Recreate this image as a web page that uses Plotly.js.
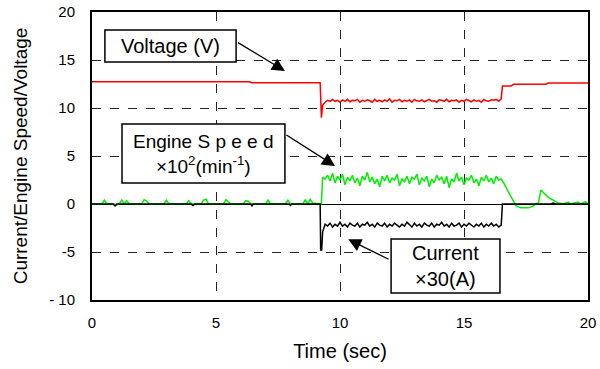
<!DOCTYPE html>
<html>
<head>
<meta charset="utf-8">
<script src="https://cdn.plot.ly/plotly-3.0.1.min.js"></script>
<style>html,body{margin:0;padding:0;background:#fff;}#chart{width:600px;height:369px;}</style>
</head>
<body>
<div id="chart"></div>
<script>
// ---- data ----
const noiseTime = [9.4,9.5,9.6,9.7,9.8,9.9,10.0,10.1,10.2,10.3,10.4,10.5,10.6,10.7,10.8,10.9,11.0,11.1,11.2,11.3,11.4,11.5,11.6,11.7,11.8,11.9,12.0,12.1,12.2,12.3,12.4,12.5,12.6,12.7,12.8,12.9,13.0,13.1,13.2,13.3,13.4,13.5,13.6,13.7,13.8,13.9,14.0,14.1,14.2,14.3,14.4,14.5,14.6,14.7,14.8,14.9,15.0,15.1,15.2,15.3,15.4,15.5,15.6,15.7,15.8,15.9,16.0,16.1,16.2,16.3,16.4,16.5];

const voltageTime = [0,6.35,6.45,9.2,9.25,9.3].concat(noiseTime,[16.55,16.9,17.0,18.3,18.4,20]);
const voltageValue = [12.74,12.74,12.64,12.64,9.0,10.3,
 10.6,10.8,10.7,10.9,10.7,10.8,10.6,10.85,10.7,10.9,
 10.65,10.8,10.75,10.9,10.6,10.8,10.7,10.85,10.75,10.6,
 10.9,10.7,10.8,10.65,10.85,10.7,10.95,10.6,10.8,10.75,
 10.9,10.65,10.8,10.7,10.85,10.6,10.9,10.75,10.7,10.85,
 10.65,10.8,10.9,10.7,10.75,10.6,10.85,10.8,10.7,10.9,
 10.65,10.8,10.75,10.85,10.6,10.8,10.7,10.9,10.75,10.65,
 10.85,10.7,10.8,10.6,10.9,10.75,10.7,10.85,10.8,10.9,10.7,10.95,
 12.3,12.3,12.47,12.47,12.6,12.6];

const speedTimeBefore = [0,0.4,0.5,0.6,0.9,1.0,1.1,1.2,1.3,1.4,1.5,1.6,2.0,2.1,2.2,2.3,2.9,3.0,3.1,3.2,3.8,3.9,4.0,4.1,4.4,4.5,4.6,4.7,5.3,5.4,5.5,5.6,6.1,6.2,6.3,6.4,7.0,7.1,7.2,7.8,7.9,8.0,8.5,8.6,8.7,8.8,8.9,9.25,9.3];
const speedValueBefore = [0,0,0.4,0,0,-0.1,0,0.4,0,0.35,0,0,0,0.45,0.3,0,0,0.4,0,0,0,0.35,0,0,0,0.4,0.5,0,0,0.45,0.2,0,0,0.35,0.3,0,0,0.4,0,0,0.4,0,0,0.45,0,0.5,0.1,0,2.8];
const speedNoise = [2.6,3.0,2.4,3.2,2.2,2.9,2.5,3.1,2.0,2.8,2.4,3.0,2.2,2.7,1.9,2.9,2.5,3.3,2.3,2.8,2.1,2.6,1.8,2.9,2.4,3.0,2.2,2.7,2.5,3.1,1.9,2.6,2.3,2.9,2.1,2.8,2.6,3.1,2.0,2.7,2.4,2.9,1.8,2.6,2.2,3.0,2.5,2.8,2.1,2.9,1.7,2.6,2.3,3.2,2.4,2.8,2.0,2.7,2.5,3.0,2.2,2.6,1.9,2.8,2.4,3.0,2.3,2.7,2.1,2.9,2.5,2.6];
const speedTimeAfter = [16.6,16.8,17.0,17.1,17.3,17.6,17.8,17.9,18.0,18.1,18.2,18.4,18.6,18.8,19.0,19.2,19.3,19.6,19.7,19.9,20];
const speedValueAfter = [2.2,1.2,0.3,-0.2,-0.4,-0.4,-0.2,0,0.1,1.45,1.2,0.7,0.4,0.1,0,0.2,0,0.2,0,0.25,0];
const speedTime = speedTimeBefore.concat(noiseTime, speedTimeAfter);
const speedValue = speedValueBefore.concat(speedNoise, speedValueAfter);

const currentTimeBefore = [0,0.85,0.93,1.0,4.0,4.07,4.15,6.4,6.45,6.5,7.95,8.0,8.05,9.2,9.22,9.26,9.3];
const currentValueBefore = [0,0,-0.2,0,0,-0.15,0,0,-0.2,0,0,-0.15,0,0,-4.8,-4.8,-2.9];
const currentNoise = [-2.1,-2.3,-2.0,-2.4,-2.1,-2.3,-1.9,-2.3,-2.1,-2.4,-2.0,-2.2,-2.3,-2.0,-2.4,-2.1,-2.2,-1.9,-2.3,-2.1,-2.4,-2.0,-2.2,-2.3,-2.0,-2.4,-2.1,-2.3,-2.0,-2.2,-2.4,-2.1,-2.3,-1.9,-2.2,-2.4,-2.0,-2.3,-2.1,-2.4,-2.0,-2.2,-2.3,-2.0,-2.4,-2.1,-2.2,-1.9,-2.3,-2.1,-2.4,-2.0,-2.3,-2.2,-2.0,-2.4,-2.1,-2.3,-2.0,-2.2,-2.4,-2.1,-2.3,-2.0,-2.4,-2.1,-2.3,-2.0,-2.3,-2.1,-2.4,-2.2];
const currentTimeAfter = [16.55,18.5,18.6,18.7,20];
const currentValueAfter = [0,0,0.1,0,0];
const currentTime = currentTimeBefore.concat(noiseTime, currentTimeAfter);
const currentValue = currentValueBefore.concat(currentNoise, currentValueAfter);

const yTickValues = [-10,-5,0,5,10,15,20];
const yTickLabels = ['- 10','-5','0','5','10','15','20'];
const xTickValues = [0,5,10,15,20];
const xTickLabels = ['0','5','10','15','20'];

// ---- plot ----
const font = 'Liberation Sans, Arial, sans-serif';
const traces = [
  {x: speedTime, y: speedValue, mode: 'lines', line: {color: '#00ee00', width: 1.5}, name: 'Engine Speed'},
  {x: currentTime, y: currentValue, mode: 'lines', line: {color: '#000000', width: 1.5}, name: 'Current'},
  {x: voltageTime, y: voltageValue, mode: 'lines', line: {color: '#ff0000', width: 1.5}, name: 'Voltage'}
];

const arrowStyle = {showarrow: true, arrowhead: 2, arrowsize: 2, arrowwidth: 1.3, arrowcolor: '#000', axref: 'x', ayref: 'y', xref: 'x', yref: 'y', text: ''};
const layout = {
  width: 600, height: 369,
  margin: {l: 92, r: 12, t: 12, b: 69},
  paper_bgcolor: '#fff', plot_bgcolor: '#fff',
  showlegend: false,
  font: {family: font, color: '#000', size: 15},
  xaxis: {
    range: [0, 20], tickvals: xTickValues, ticktext: xTickLabels,
    showgrid: true, gridcolor: '#222', griddash: 'dash', gridwidth: 1,
    zeroline: false, showline: true, linecolor: '#000', linewidth: 2, mirror: true,
    ticks: '', tickfont: {size: 15, family: font}, ticklabelstandoff: 8,
    title: {text: 'Time (sec)', font: {size: 20, family: font}, standoff: 14}
  },
  yaxis: {
    range: [-10, 20], tickvals: yTickValues, ticktext: yTickLabels,
    showgrid: true, gridcolor: '#222', griddash: 'dash', gridwidth: 1,
    zeroline: true, zerolinecolor: '#000', zerolinewidth: 1,
    showline: true, linecolor: '#000', linewidth: 2, mirror: true,
    ticks: '', tickfont: {size: 15, family: font}, ticklabelstandoff: 12,
    title: {text: 'Current/Engine Speed/Voltage', font: {size: 19, family: font}, standoff: 16}
  },
  shapes: [
    {type: 'rect', xref: 'x', yref: 'y', x0: 0.52, x1: 5.81, y0: 14.79, y1: 18.12, line: {color: '#000', width: 1.5}, fillcolor: '#fff', layer: 'above'},
    {type: 'rect', xref: 'x', yref: 'y', x0: 1.21, x1: 7.78, y0: 2.19, y1: 8.33, line: {color: '#000', width: 1.5}, fillcolor: '#fff', layer: 'above'},
    {type: 'rect', xref: 'x', yref: 'y', x0: 12.06, x1: 16.45, y0: -9.27, y1: -3.65, line: {color: '#000', width: 1.5}, fillcolor: '#fff', layer: 'above'}
  ],
  annotations: [
    {xref: 'x', yref: 'y', x: 3.17, y: 16.45, text: 'Voltage (V)', showarrow: false, font: {size: 20, family: font}},
    {xref: 'x', yref: 'y', x: 4.5, y: 5.2, text: 'Engine S p e e d<br>×10<sup>2</sup>(min<sup>-1</sup>)', showarrow: false, font: {size: 19, family: font}, align: 'center'},
    {xref: 'x', yref: 'y', x: 14.25, y: -6.46, text: 'Current<br>×30(A)', showarrow: false, font: {size: 20, family: font}, align: 'center'},
    Object.assign({}, arrowStyle, {x: 7.78, y: 13.85, ax: 5.83, ay: 16.9}),
    Object.assign({}, arrowStyle, {x: 9.8, y: 3.96, ax: 7.78, ay: 7.29}),
    Object.assign({}, arrowStyle, {x: 10.33, y: -3.68, ax: 12.02, ay: -5.83})
  ]
};

Plotly.newPlot('chart', traces, layout, {displayModeBar: false, staticPlot: true});
</script>
</body>
</html>
